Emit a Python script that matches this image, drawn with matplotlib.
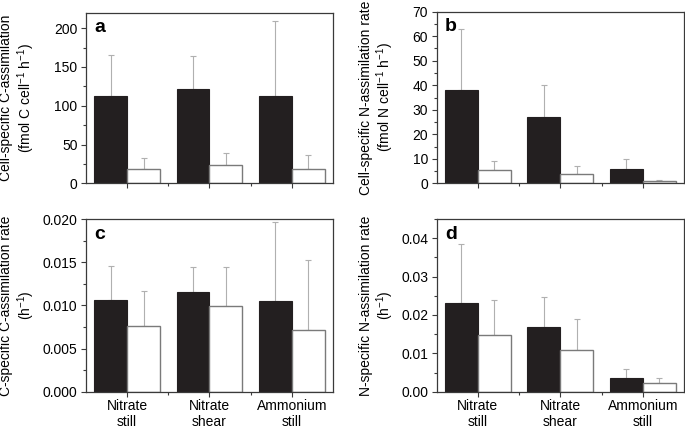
import matplotlib
matplotlib.use("Agg")
import matplotlib.pyplot as plt
import numpy as np
from matplotlib.ticker import MultipleLocator, FixedLocator, FormatStrFormatter

plt.rcParams['font.family'] = ['Liberation Sans', 'DejaVu Sans']
plt.rcParams['mathtext.fontset'] = 'custom'
plt.rcParams['mathtext.rm'] = 'Liberation Sans'
plt.rcParams['mathtext.it'] = 'Liberation Sans:italic'
plt.rcParams['mathtext.bf'] = 'Liberation Sans:bold'

# Data
groups = ['Nitrate\nstill', 'Nitrate\nshear', 'Ammonium\nstill']

# panel a: cell-specific C assimilation (mean, upper error bar tip)
a_black = [112, 122, 112]
a_black_top = [166, 164, 209]
a_white = [19, 24, 18]
a_white_top = [33, 39, 37]

# panel b: cell-specific N assimilation
b_black = [38, 27, 6]
b_black_top = [63, 40, 10]
b_white = [5.5, 4, 1]
b_white_top = [9, 7, 1.3]

# panel c: C-specific C assimilation rate
c_black = [0.0106, 0.0115, 0.0105]
c_black_top = [0.0146, 0.0145, 0.0196]
c_white = [0.0076, 0.0099, 0.0072]
c_white_top = [0.0117, 0.0144, 0.0152]

# panel d: N-specific N assimilation rate
d_black = [0.0230, 0.0168, 0.0035]
d_black_top = [0.0384, 0.0247, 0.0059]
d_white = [0.0147, 0.0110, 0.0023]
d_white_top = [0.0238, 0.0189, 0.0037]

fig = plt.figure(figsize=(6.85, 4.29), dpi=100)

panels = [
    ('a', [0.1255, 0.5727, 0.3606, 0.3977], a_black, a_black_top, a_white, a_white_top,
     (0, 220), 50, 25, 'Cell-specific C-assimilation\n(fmol C cell$^{-1}$ h$^{-1}$)', -0.20, None),
    ('b', [0.6375, 0.5727, 0.3610, 0.4000], b_black, b_black_top, b_white, b_white_top,
     (0, 70), 10, 5, 'Cell-specific N-assimilation rate\n(fmol N cell$^{-1}$ h$^{-1}$)', -0.165, None),
    ('c', [0.1255, 0.0869, 0.3606, 0.4026], c_black, c_black_top, c_white, c_white_top,
     (0, 0.020), 0.005, 0.0025, 'C-specific C-assimilation rate\n(h$^{-1}$)', -0.20, '%.3f'),
    ('d', [0.6375, 0.0869, 0.3610, 0.4026], d_black, d_black_top, d_white, d_white_top,
     (0, 0.045), 0.01, 0.005, 'N-specific N-assimilation rate\n(h$^{-1}$)', -0.165, '%.2f'),
]

x = np.arange(1, len(groups) + 1)
w = 0.4
spine_col = '#3a3a3a'
err_col = '#b0b0b0'
fs = 10

for letter, rect, blk, blk_top, wht, wht_top, ylim, major, minor, ylabel, lx, fmt in panels:
    ax = fig.add_axes(rect)
    blk = np.array(blk); wht = np.array(wht)
    ax.bar(x - w / 2, blk, w, color='#231f20', edgecolor='#231f20', linewidth=0.8, zorder=2)
    ax.bar(x + w / 2, wht, w, color='white', edgecolor='#7a7a7a', linewidth=1.0, zorder=2)
    ax.errorbar(x - w / 2, blk, yerr=[np.zeros(3), np.array(blk_top) - blk], fmt='none',
                ecolor=err_col, elinewidth=0.8, capsize=2.2, capthick=0.8, zorder=1)
    ax.errorbar(x + w / 2, wht, yerr=[np.zeros(3), np.array(wht_top) - wht], fmt='none',
                ecolor=err_col, elinewidth=0.8, capsize=2.2, capthick=0.8, zorder=1)
    ax.set_xlim(0.5, 3.5)
    ax.set_ylim(*ylim)
    ax.yaxis.set_major_locator(MultipleLocator(major))
    ax.yaxis.set_minor_locator(MultipleLocator(minor))
    if fmt:
        ax.yaxis.set_major_formatter(FormatStrFormatter(fmt))
    ax.set_xticks(x)
    ax.xaxis.set_minor_locator(FixedLocator([1.5, 2.5]))
    if letter in ('c', 'd'):
        ax.set_xticklabels(groups, linespacing=1.1)
    else:
        ax.set_xticklabels([])
    for s in ax.spines.values():
        s.set_color(spine_col)
        s.set_linewidth(0.9)
    ax.tick_params(which='both', direction='out', color=spine_col, width=0.8)
    ax.tick_params(which='major', length=3.6, labelsize=fs, pad=2.5)
    ax.tick_params(which='minor', length=2)
    ax.tick_params(axis='x', which='major', pad=2)
    ax.set_ylabel(ylabel, fontsize=fs, linespacing=1.1)
    ax.yaxis.set_label_coords(lx, 0.5)
    ax.text(0.034, 0.885, letter, transform=ax.transAxes, fontsize=14,
            fontweight='bold', va='baseline', ha='left')

fig.savefig('out.png', dpi=100)
